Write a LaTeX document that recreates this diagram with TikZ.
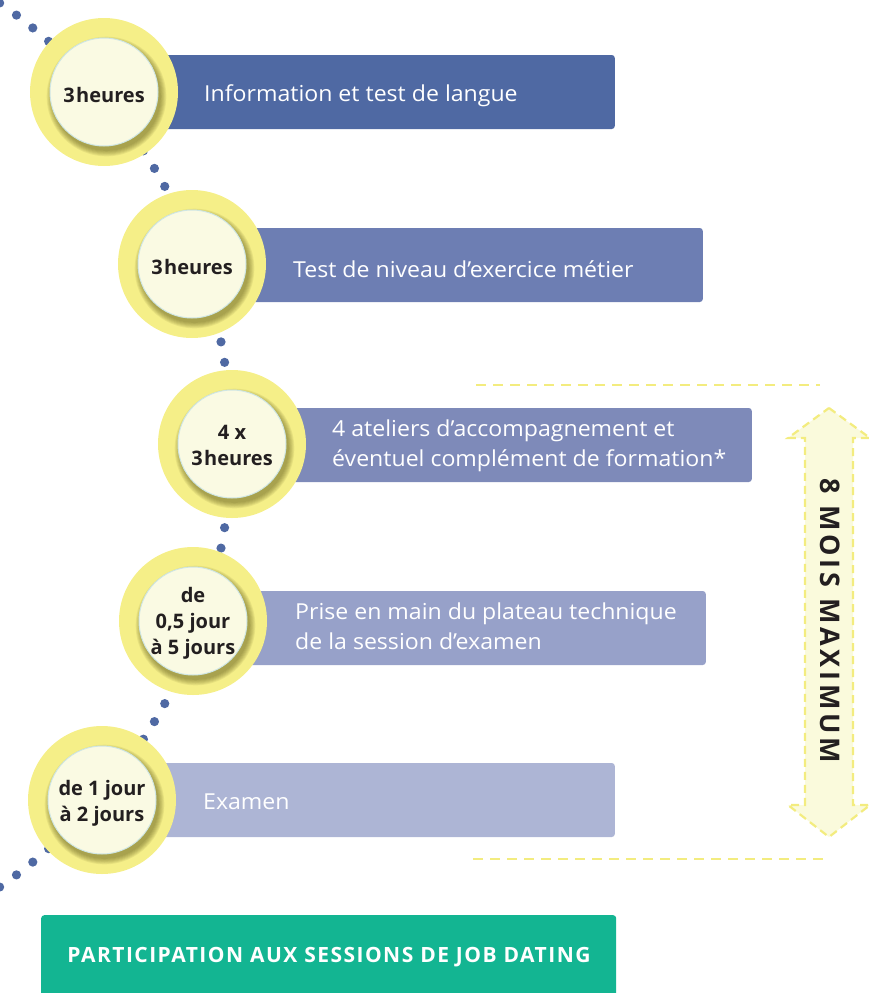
\documentclass[tikz,border=0pt]{standalone}
\usepackage{fontspec}
\setmainfont{Open Sans}
\newfontfamily\barfont[FakeStretch=1.05]{Open Sans}
\newfontfamily\spacedfont[LetterSpace=14]{Open Sans}
\newfontfamily\capsfont[LetterSpace=7]{Open Sans}
\usetikzlibrary{calc}
\definecolor{dotc}{HTML}{4F69A3}
\definecolor{barA}{HTML}{4F69A3}
\definecolor{barB}{HTML}{6D7EB3}
\definecolor{barC}{HTML}{7E8AB9}
\definecolor{barD}{HTML}{97A1C9}
\definecolor{barE}{HTML}{ADB5D5}
\definecolor{ring}{HTML}{F5EF88}
\definecolor{inner}{HTML}{FAFAE3}
\definecolor{innerline}{HTML}{CFE6E3}
\definecolor{shadowc}{HTML}{5E5818}
\definecolor{arrowfill}{HTML}{FAFADC}
\definecolor{arrowline}{HTML}{F3EC7F}
\definecolor{greenbox}{HTML}{13B592}
\definecolor{darktext}{HTML}{231F20}
\tikzset{
  outerring/.style={circle, fill=ring, minimum size=148pt, inner sep=0pt},
  innerdisc/.style={circle, fill=inner, draw=innerline, line width=1pt, minimum size=108pt, inner sep=0pt},
  disctext/.style={font=\fontsize{20}{26}\selectfont\bfseries, text=darktext, align=center, inner sep=0pt},
  barbox/.style={rectangle, rounded corners=3pt, minimum height=74pt, inner sep=0pt, anchor=east},
  bartext/.style={anchor=west, text=white, font=\fontsize{22}{30}\selectfont\barfont, align=left, inner sep=0pt},
  dashline/.style={draw=arrowline, line width=2.6pt, dash pattern=on 10pt off 7pt},
}
\newcommand{\stepcircle}[5]{% name, x, y, text, text shift
  \node[outerring] (#1o) at (#2,#3) {};
  \foreach \i in {1,...,7}{
    \fill[shadowc, opacity=0.09] ($(#2,#3)+(2.5,4.5)$) circle[radius={(53.5+0.9*\i)*1pt}];
  }
  \node[innerdisc] (#1) at (#2,#3) {};
  \node[disctext] (#1t) at ($(#2,#3)+(0,#5)$) {#4};
}
\begin{document}
\begin{tikzpicture}[x=1pt,y=-1pt]
\useasboundingbox (0,0) rectangle (868,993);
% dotted arc
\foreach \k in {-25,...,25}{
  \fill[dotc] ({-307+538*cos(\k*2.21)},{445-538*sin(\k*2.21)}) circle[radius=4.6pt];
}
% bars
\node[barbox, fill=barA, minimum width=511pt] (b1) at (615,92) {};
\node[barbox, fill=barB, minimum width=511pt] (b2) at (703,265) {};
\node[barbox, fill=barC, minimum width=520pt] (b3) at (752,445) {};
\node[barbox, fill=barD, minimum width=513pt] (b4) at (706,628) {};
\node[barbox, fill=barE, minimum width=513pt] (b5) at (615,800) {};
\node[bartext] (t1) at (204,96) {Information et test de langue};
\node[bartext] (t2) at (293,269) {Test de niveau d’exercice métier};
\node[bartext] (t3) at (332,446) {4 ateliers d’accompagnement et\\éventuel complément de formation*};
\node[bartext] (t4) at (295,626) {Prise en main du plateau technique\\de la session d’examen};
\node[bartext] (t5) at (203,802) {Examen};
% circles
\stepcircle{c1}{104}{92}{3\kern1.5pt heures}{3}
\stepcircle{c2}{192}{264}{3\kern1.5pt heures}{3}
\stepcircle{c3}{232}{444}{4 x\\3\kern1.5pt heures}{1}
\stepcircle{c4}{193}{621}{de\\0,5 jour\\à 5 jours}{2}
\stepcircle{c5}{102}{800}{de 1 jour\\à 2 jours}{3}
% duration arrow
\draw[dashline] (476,385) coordinate (l1a) -- (820,385) coordinate (l1b);
\draw[dashline] (473,859) coordinate (l2a) -- (830,859) coordinate (l2b);
\filldraw[fill=arrowfill, draw=arrowline, line width=2.2pt, dash pattern=on 8pt off 5pt, line join=miter]
  (829,408) -- (870,438) -- (853,438) -- (853,805) -- (870,805) -- (829,837)
  -- (788,805) -- (805,805) -- (805,438) -- (788,438) -- cycle;
\node[rotate=-90, text=darktext, font=\fontsize{27}{30}\selectfont\spacedfont\bfseries, inner sep=0pt] (dur) at (830,621) {8 MOIS MAXIMUM};
% green box
\node[rectangle, rounded corners=3pt, fill=greenbox, minimum width=575pt, minimum height=90pt, anchor=north west, inner sep=0pt] (job) at (41,915) {};
\node[text=white, font=\fontsize{21}{24}\selectfont\capsfont\bfseries, inner sep=0pt] (jobt) at (329,957) {PARTICIPATION AUX SESSIONS DE JOB DATING};
\end{tikzpicture}
\end{document}
